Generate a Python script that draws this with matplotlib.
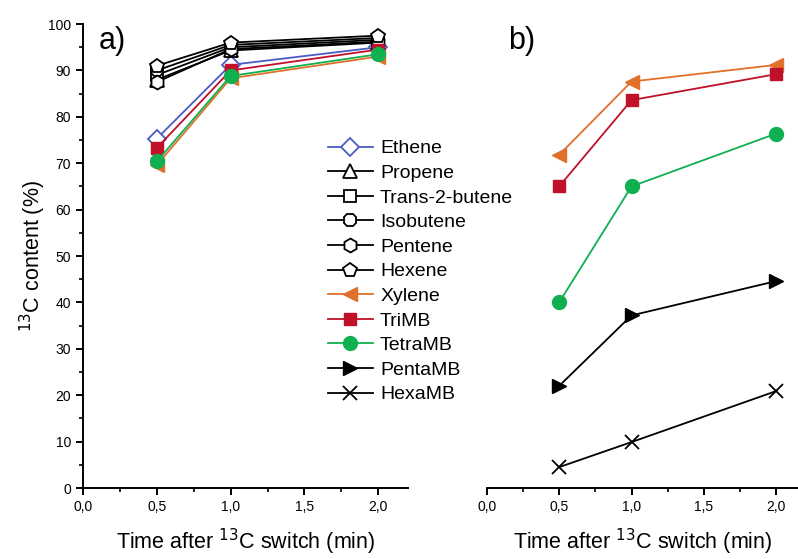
import numpy as np
import matplotlib
matplotlib.use("Agg")
import matplotlib.pyplot as plt
from matplotlib.ticker import MultipleLocator

plt.rcParams['font.family'] = ['Liberation Sans', 'DejaVu Sans']

time = [0.5, 1.0, 2.0]

# panel a) - light olefins plus aromatics
ethene = [75.3, 91.2, 95.0]
propene = [88.0, 94.3, 96.0]
trans2butene = [89.0, 95.0, 96.6]
isobutene = [90.0, 95.5, 97.0]
pentene = [87.5, 94.6, 96.2]
hexene = [91.0, 96.0, 97.5]
xylene_a = [69.6, 88.3, 93.0]
trimb_a = [73.3, 90.0, 94.5]
tetramb_a = [70.4, 88.8, 93.5]

# panel b) - methylbenzenes
xylene_b = [71.8, 87.6, 91.2]
trimb_b = [65.0, 83.6, 89.2]
tetramb_b = [40.0, 65.0, 76.4]
pentamb_b = [22.0, 37.2, 44.6]
hexamb_b = [4.5, 9.9, 20.9]

blue = '#4a5cc4'
orange = '#e0702a'
red = '#c0102a'
green = '#10b050'

fig = plt.figure(figsize=(7.98, 5.59), dpi=100)
ax1 = fig.add_axes([0.104, 0.127, 0.407, 0.830])
ax2 = fig.add_axes([0.610, 0.127, 0.390, 0.830])

ms = 10
lw = 1.3
open_kw = dict(mfc='white', lw=lw, ms=ms, mew=1.3)

ax1.plot(time, ethene, color=blue, marker='D', label='Ethene', **dict(open_kw, ms=9))
ax1.plot(time, propene, color='black', marker='^', label='Propene', **open_kw)
ax1.plot(time, trans2butene, color='black', marker='s', label='Trans-2-butene', **dict(open_kw, ms=9))
ax1.plot(time, isobutene, color='black', marker='8', label='Isobutene', **open_kw)
ax1.plot(time, pentene, color='black', marker='h', label='Pentene', **open_kw)
ax1.plot(time, hexene, color='black', marker='p', label='Hexene', **open_kw)
ax1.plot(time, xylene_a, color=orange, marker='<', lw=lw, ms=ms, label='Xylene')
ax1.plot(time, trimb_a, color=red, marker='s', lw=lw, ms=9, label='TriMB')
ax1.plot(time, tetramb_a, color=green, marker='o', lw=lw, ms=ms, label='TetraMB')
# entries only shown in panel b) but listed in the shared legend
ax1.plot([], [], color='black', marker='>', lw=lw, ms=ms, label='PentaMB')
ax1.plot([], [], color='black', marker='x', lw=lw, ms=ms, mew=1.3, label='HexaMB')

ax2.plot(time, xylene_b, color=orange, marker='<', lw=lw, ms=ms)
ax2.plot(time, trimb_b, color=red, marker='s', lw=lw, ms=9)
ax2.plot(time, tetramb_b, color=green, marker='o', lw=lw, ms=ms)
ax2.plot(time, pentamb_b, color='black', marker='>', lw=lw, ms=ms)
ax2.plot(time, hexamb_b, color='black', marker='x', lw=lw, ms=ms, mew=1.3)

for ax in (ax1, ax2):
    ax.set_ylim(0, 100)
    ax.xaxis.set_major_locator(MultipleLocator(0.5))
    ax.xaxis.set_minor_locator(MultipleLocator(0.25))
    ax.xaxis.set_major_formatter(lambda v, p: f'{v:.1f}'.replace('.', ','))
    ax.spines['top'].set_visible(False)
    ax.spines['right'].set_visible(False)
    ax.spines['left'].set_linewidth(1.4)
    ax.spines['bottom'].set_linewidth(1.4)
    ax.tick_params(which='major', direction='out', length=5, width=1.4, labelsize=10)
    ax.tick_params(which='minor', direction='out', length=3, width=1.2)
    ax.set_xlabel('Time after $^{13}$C switch (min)', fontsize=15.5, labelpad=9)

ax1.set_xlim(0, 2.2)
ax2.set_xlim(0, 2.15)
ax1.yaxis.set_major_locator(MultipleLocator(10))
ax1.yaxis.set_minor_locator(MultipleLocator(5))
ax1.set_ylabel('$^{13}$C content (%)', fontsize=15.5, labelpad=0)

ax2.spines['left'].set_visible(False)
ax2.set_yticks([])
ax2.yaxis.set_minor_locator(plt.NullLocator())

ax1.text(0.05, 0.995, 'a)', transform=ax1.transAxes, fontsize=22, va='top')
ax2.text(0.068, 0.995, 'b)', transform=ax2.transAxes, fontsize=22, va='top')

fig.legend(loc='upper left', bbox_to_anchor=(0.411, 0.750), frameon=False,
           fontsize=14, handlelength=2.3, labelspacing=0.36, handletextpad=0.38,
           borderpad=0, borderaxespad=0)

fig.savefig('out.png', dpi=100)
